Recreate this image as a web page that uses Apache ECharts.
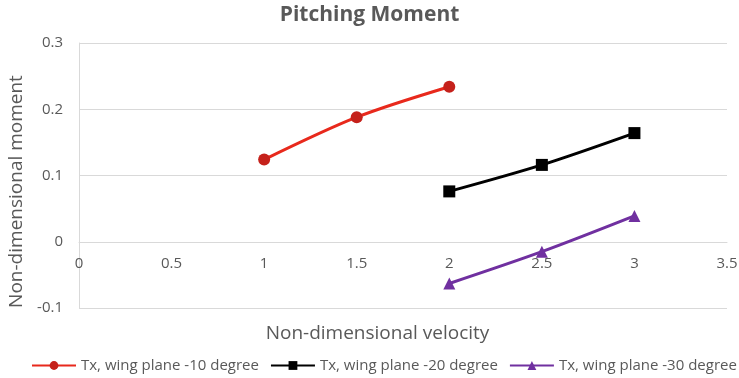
<!DOCTYPE html>
<html><head><meta charset="utf-8">
<script src="https://cdn.jsdelivr.net/npm/echarts@6/dist/echarts.min.js"></script>
<style>html,body{margin:0;padding:0;background:#fff}#c{width:739px;height:378px}</style>
</head><body><div id="c"></div>
<script>
const seriesNames = ['Tx, wing plane -10 degree', 'Tx, wing plane -20 degree', 'Tx, wing plane -30 degree'];
const xTen = [1, 1.5, 2];
const yTen = [0.124, 0.188, 0.234];
const xTwenty = [2, 2.5, 3];
const yTwenty = [0.076, 0.116, 0.164];
const xThirty = [2, 2.5, 3];
const yThirty = [-0.063, -0.015, 0.039];

const pairs = (xs, ys) => xs.map((x, i) => [x, ys[i]]);
const font = 'Open Sans';
const gridTop = 43, gridBottom = 70, H = 378;
const yMin = -0.1, yMax = 0.3;
const zeroOffset = -(H - gridTop - gridBottom) * (0 - yMin) / (yMax - yMin);
const chart = echarts.init(document.getElementById('c'), null, {renderer: 'canvas'});
chart.setOption({
  animation: false,
  backgroundColor: '#fff',
  title: {text: 'Pitching Moment', left: 'center', top: 0,
    textStyle: {fontFamily: font, fontSize: 21, fontWeight: 'bold', color: '#595959'}},
  grid: {left: 79, right: 12, top: gridTop, bottom: gridBottom, outerBoundsMode: 'none', containLabel: false},
  xAxis: {type: 'value', min: 0, max: 3.5, interval: 0.5, position: 'bottom', offset: zeroOffset,
    name: 'Non-dimensional velocity', nameLocation: 'middle', nameGap: 82,
    nameTextStyle: {fontFamily: font, fontSize: 19, color: '#595959', padding: [0, 51, 0, 0]},
    axisLine: {onZero: false, lineStyle: {color: '#d9d9d9', width: 1}},
    axisTick: {show: false},
    splitLine: {show: false},
    axisLabel: {fontFamily: font, fontSize: 15, color: '#595959', margin: 14}},
  yAxis: {type: 'value', min: yMin, max: yMax, interval: 0.1,
    name: 'Non-dimensional moment', nameLocation: 'middle', nameGap: 50,
    nameTextStyle: {fontFamily: font, fontSize: 19, color: '#595959', padding: [0, 32, 0, 0]},
    axisLine: {show: true, onZero: false, lineStyle: {color: '#d9d9d9'}},
    axisTick: {show: false},
    splitLine: {lineStyle: {color: '#d9d9d9'}},
    axisLabel: {fontFamily: font, fontSize: 15, color: '#595959', margin: 16,
      formatter: v => Math.round(v * 10) / 10 + ''}},
  legend: {bottom: 5, left: 31, width: 708, padding: 0, itemWidth: 44, itemHeight: 11, itemGap: 11,
    textStyle: {fontFamily: font, fontSize: 15, color: '#595959'}},
  series: [
    {name: seriesNames[0], type: 'line', data: pairs(xTen, yTen), smooth: 0.3,
      symbol: 'circle', symbolSize: 12,
      lineStyle: {color: '#e8291c', width: 3}, itemStyle: {color: '#c5211b'}},
    {name: seriesNames[1], type: 'line', data: pairs(xTwenty, yTwenty), smooth: 0.3,
      symbol: 'rect', symbolSize: 12,
      lineStyle: {color: '#000', width: 3}, itemStyle: {color: '#000'}},
    {name: seriesNames[2], type: 'line', data: pairs(xThirty, yThirty), smooth: 0.3,
      symbol: 'triangle', symbolSize: 12,
      lineStyle: {color: '#7030a0', width: 3}, itemStyle: {color: '#7030a0'}}
  ]
});
</script></body></html>
